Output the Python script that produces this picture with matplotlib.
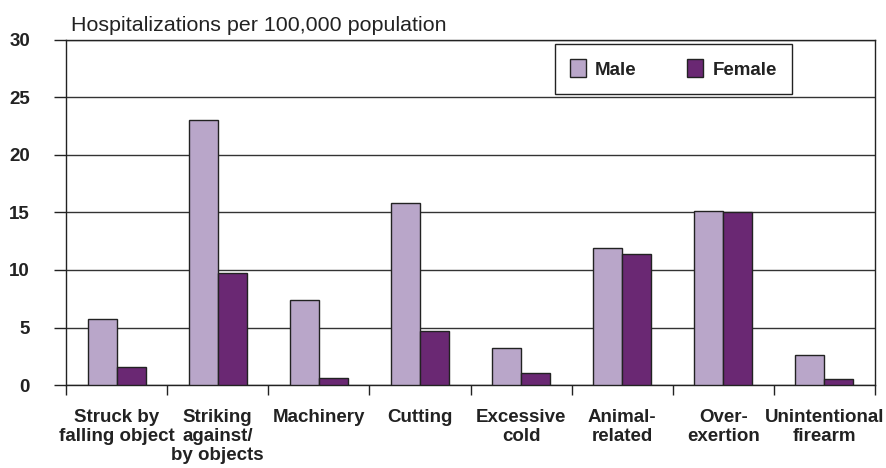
import matplotlib.pyplot as plt
import numpy as np

plt.rcParams['font.family'] = ['Liberation Sans', 'DejaVu Sans']

categories = ["Struck by\nfalling object", "Striking\nagainst/\nby objects", "Machinery",
              "Cutting", "Excessive\ncold", "Animal-\nrelated", "Over-\nexertion",
              "Unintentional\nfirearm"]
male = [5.7, 23.0, 7.35, 15.8, 3.2, 11.95, 15.15, 2.6]
female = [1.55, 9.75, 0.65, 4.7, 1.05, 11.4, 15.05, 0.5]
yticks = [0, 5, 10, 15, 20, 25, 30]

male_color = "#B9A6C9"
female_color = "#6A2873"

fig = plt.figure(figsize=(8.86, 4.68), dpi=100)
ax = fig.add_axes([66/886, 1 - 385/468, (875 - 66)/886, (385 - 40)/468])

x = np.arange(len(categories))
w = 0.287
ax.bar(x - w/2, male, w, color=male_color, edgecolor="#222222", linewidth=1, label="Male", zorder=3)
ax.bar(x + w/2, female, w, color=female_color, edgecolor="#222222", linewidth=1, label="Female", zorder=3)

ax.set_xlim(-0.5, len(categories) - 0.5)
ax.set_ylim(0, 30)
ax.set_yticks(yticks)
ax.set_yticklabels([str(t) for t in yticks], fontsize=13.5, fontweight="bold", color="#222222")
ax.tick_params(axis="y", length=9, width=1, pad=17, color="#222222")
ax.yaxis.grid(True, color="#333333", linewidth=1, zorder=0)

ax.set_xticks(x)
ax.set_xticklabels(categories, fontsize=13.5, fontweight="bold", color="#222222", linespacing=1.15)
ax.tick_params(axis="x", which="major", length=0, pad=17)
ax.set_xticks(np.arange(len(categories) + 1) - 0.5, minor=True)
ax.tick_params(axis="x", which="minor", length=7, width=1, color="#222222")

for s in ax.spines.values():
    s.set_color("#222222")
    s.set_linewidth(1)

fig.text(71/886, 1 - 31/468, "Hospitalizations per 100,000 population", fontsize=15.4,
         color="#222222", va="baseline", ha="left")

leg = ax.legend(loc="center", bbox_to_anchor=(673.5/886, 1 - 69/468), bbox_transform=fig.transFigure,
                ncol=2, fancybox=False, frameon=True, borderpad=0.8, handlelength=0.85,
                handleheight=1.05, handletextpad=0.5, columnspacing=2.7,
                prop={"size": 13.5, "weight": "bold"})
leg.get_frame().set_edgecolor("#222222")
leg.get_frame().set_linewidth(1)
leg.get_frame().set_alpha(1)
for t in leg.get_texts():
    t.set_color("#222222")

fig.savefig("out.png", dpi=100)
